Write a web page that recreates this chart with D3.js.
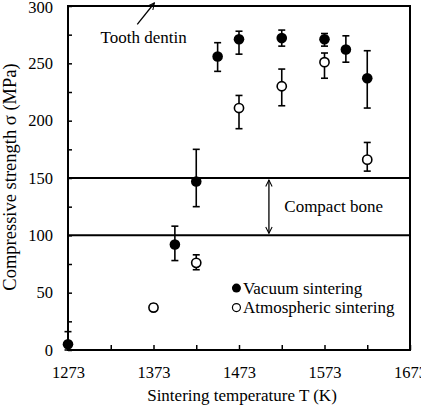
<!DOCTYPE html>
<html><head><meta charset="utf-8">
<script src="https://cdn.jsdelivr.net/npm/d3@7"></script>
<style>body{margin:0;background:#fff}svg{display:block}</style>
</head><body>
<svg id="c" width="421" height="406"></svg>
<script>
const vacTemps = [1273, 1398, 1423, 1448, 1473, 1523, 1573, 1598, 1623];
const vacValues = [5, 92, 147, 256, 271, 272, 271, 262, 237];
const vacUpper = [16, 108, 175, 268, 278, 279, 276, 274, 261];
const vacLower = [0, 78, 125, 243, 258, 265, 265, 251, 211];
const atmTemps = [1373, 1423, 1473, 1523, 1573, 1623];
const atmValues = [37, 76, 211, 230, 251, 166];
const atmUpper = [40, 83, 222, 245, 259, 181];
const atmLower = [34, 70, 193, 213, 237, 156];
const xTicks = [1273, 1373, 1473, 1573, 1673];
const yTicks = [0, 50, 100, 150, 200, 250, 300];
const boneRange = [100, 150];
const toothDentin = 300;

const FONT = "'Liberation Serif', 'DejaVu Serif', serif";
const m = {l:68, r:11, t:6, b:56};
const W = 421, H = 406;
const svg = d3.select("#c");
const x = d3.scaleLinear().domain([1273, 1673]).range([m.l, W - m.r]);
const y = d3.scaleLinear().domain([0, 300]).range([H - m.b, m.t]);

const defs = svg.append("defs");
defs.append("marker").attr("id","ah").attr("viewBox","0 0 10 10").attr("refX",9).attr("refY",5)
  .attr("markerWidth",8).attr("markerHeight",8).attr("orient","auto-start-reverse")
  .attr("markerUnits","userSpaceOnUse")
  .append("path").attr("d","M1,1 L9,5 L1,9").attr("fill","none").attr("stroke","#000").attr("stroke-width",1.3);

svg.append("rect").attr("x",m.l).attr("y",m.t).attr("width",W-m.l-m.r).attr("height",H-m.t-m.b)
  .attr("fill","none").attr("stroke","#000").attr("stroke-width",2);

const xAxis = d3.axisBottom(x).tickValues(d3.range(1273, 1674, 50)).tickSize(-5).tickFormat(d => xTicks.includes(d) ? d : "");
const gx = svg.append("g").attr("transform",`translate(0,${H-m.b})`).call(xAxis);
gx.select(".domain").remove();
gx.selectAll("line").attr("stroke","#000").attr("stroke-width",1.5);
gx.selectAll("text").style("font-family",FONT).style("font-size","16.5px").attr("dy","1.5em").attr("fill","#000");

const yAxis = d3.axisLeft(y).tickValues(d3.range(0, 301, 25)).tickSize(-4).tickFormat(d => yTicks.includes(d) ? d : "");
const gy = svg.append("g").attr("transform",`translate(${m.l},0)`).call(yAxis);
gy.select(".domain").remove();
gy.selectAll("line").attr("stroke","#000").attr("stroke-width",1.5);
gy.selectAll("text").style("font-family",FONT).style("font-size","16.5px").attr("x",-15).attr("fill","#000");
gy.selectAll("text").filter(d => d === 300).attr("dy","0.4em");

boneRange.forEach(v => svg.append("line").attr("x1",m.l).attr("x2",W-m.r).attr("y1",y(v)).attr("y2",y(v))
  .attr("stroke","#000").attr("stroke-width",2));

function label(xp, yp, txt, size) {
  return svg.append("text").attr("x",xp).attr("y",yp).style("font-family",FONT).style("font-size",size+"px").attr("fill","#000").text(txt);
}

svg.append("line").attr("x1",x(1508)).attr("x2",x(1508)).attr("y1",y(boneRange[1])+2).attr("y2",y(boneRange[0])-2)
  .attr("stroke","#000").attr("stroke-width",1.3).attr("marker-start","url(#ah)").attr("marker-end","url(#ah)");
label(x(1526), y(125)+5, "Compact bone", 17);

svg.append("line").attr("x1",x(1354)).attr("y1",y(284)).attr("x2",x(1374)).attr("y2",y(toothDentin)-3)
  .attr("stroke","#000").attr("stroke-width",1.3).attr("marker-end","url(#ah)");
label(x(1311), y(272)+5, "Tooth dentin", 17);

function errBars(temps, lo, hi) {
  const g = svg.append("g").attr("stroke","#000").attr("stroke-width",1.6);
  temps.forEach((t,i) => {
    g.append("line").attr("x1",x(t)).attr("x2",x(t)).attr("y1",y(lo[i])).attr("y2",y(hi[i]));
    [lo[i], hi[i]].forEach(v => g.append("line").attr("x1",x(t)-3.5).attr("x2",x(t)+3.5).attr("y1",y(v)).attr("y2",y(v)));
  });
}
errBars(vacTemps, vacLower, vacUpper);
errBars(atmTemps, atmLower, atmUpper);

svg.append("g").selectAll("circle").data(vacTemps).join("circle")
  .attr("cx",d=>x(d)).attr("cy",(d,i)=>y(vacValues[i])).attr("r",5.3).attr("fill","#000");
svg.append("g").selectAll("circle").data(atmTemps).join("circle")
  .attr("cx",d=>x(d)).attr("cy",(d,i)=>y(atmValues[i])).attr("r",4.6).attr("fill","#fff")
  .attr("stroke","#000").attr("stroke-width",1.6);

const lx = x(1470), ly = y(54);
svg.append("circle").attr("cx",lx).attr("cy",ly).attr("r",4.5).attr("fill","#000");
label(lx+6.5, ly+5.5, "Vacuum sintering", 17);
svg.append("circle").attr("cx",lx).attr("cy",ly+19.5).attr("r",4).attr("fill","#fff").attr("stroke","#000").attr("stroke-width",1.2);
label(lx+6.5, ly+25, "Atmospheric sintering", 17);

label((m.l + W - m.r)/2 + 3, 401, "Sintering temperature T (K)", 17).attr("text-anchor","middle");
svg.append("text").attr("transform",`translate(16,177) rotate(-90)`).attr("text-anchor","middle")
  .style("font-family",FONT).style("font-size","18.5px").attr("fill","#000")
  .text("Compressive strength  σ (MPa)");
</script>
</body></html>
